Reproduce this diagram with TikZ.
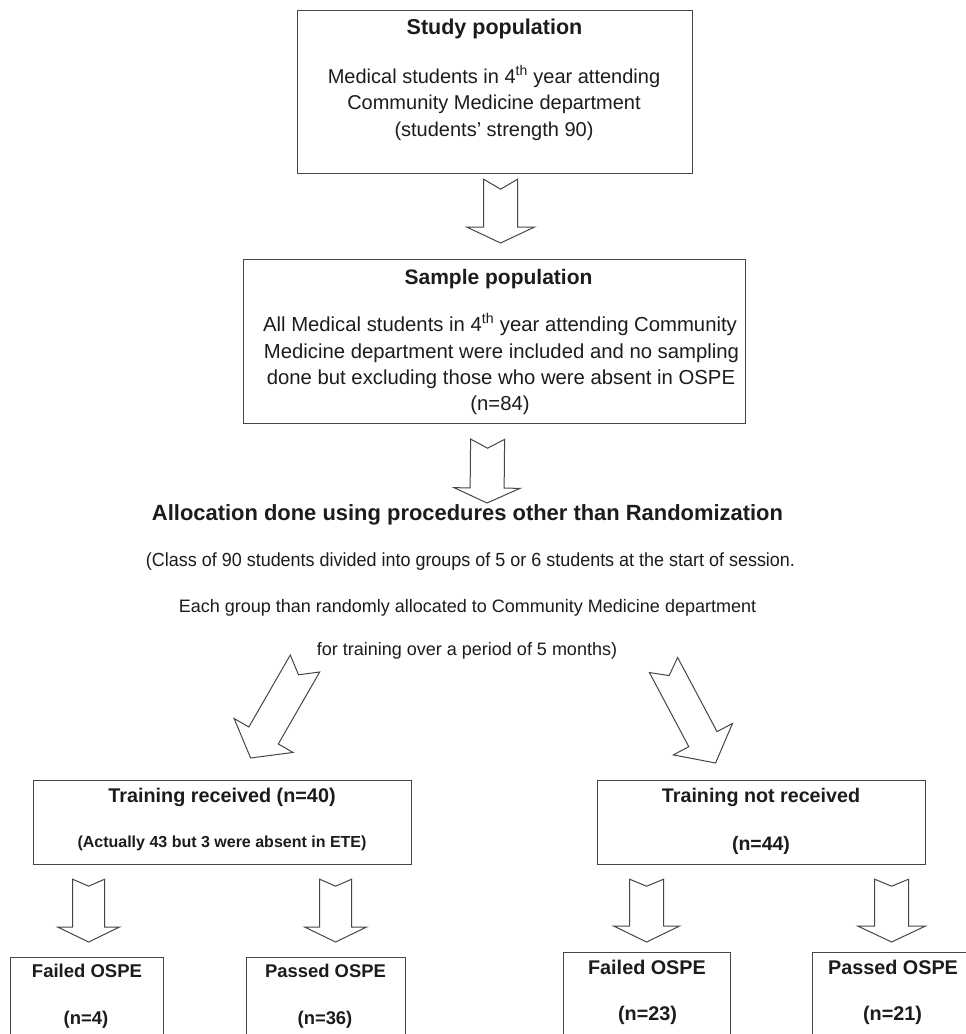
\documentclass[tikz,border=0pt]{standalone}
\usepackage{graphicx}
\usepackage{fontspec}
\setmainfont{Liberation Sans}
\usetikzlibrary{calc}
\definecolor{ink}{RGB}{28,28,28}
\definecolor{linec}{RGB}{70,70,70}
\newcommand{\fs}[1]{\fontsize{#1}{#1}\selectfont}
% #1 tail centre, #2 tip, #3 shaft half width, #4 head half width, #5 head length, #6 notch depth
\newcommand{\blockarrow}[6]{%
  \coordinate (bah) at ($(#2)!#5!(#1)$);
  \draw[blockarr] ($(#1)!#3!90:(#2)$) -- ($(#1)!#6!(#2)$) -- ($(#1)!#3!-90:(#2)$)
    -- ($(bah)!#3!-90:(#2)$) -- ($(bah)!#4!-90:(#2)$) -- (#2)
    -- ($(bah)!#4!90:(#2)$) -- ($(bah)!#3!90:(#2)$) -- cycle;}
\begin{document}
\begin{tikzpicture}[x=1pt,y=-1pt,
  box/.style={draw=linec, line width=1.2pt, anchor=north west, inner sep=0pt},
  t/.style={inner sep=0pt, text=ink, anchor=center, text height=0.72em, text depth=0.22em},
  blockarr/.style={draw=linec, line width=1pt, fill=white, line join=miter}]
\useasboundingbox (0,0) rectangle (966,1034);
\clip (0,0) rectangle (966,1034);
\fill[white] (0,0) rectangle (966,1034);

% boxes
\node[box, minimum width=395pt, minimum height=163pt] (b1) at (297,10) {};
\node[box, minimum width=502pt, minimum height=164pt] (b2) at (243,259) {};
\node[box, minimum width=378pt, minimum height=84pt] (tr) at (33,780) {};
\node[box, minimum width=328pt, minimum height=84pt] (tn) at (597,780) {};
\node[box, minimum width=153pt, minimum height=110pt] (f1) at (10,957) {};
\node[box, minimum width=159pt, minimum height=110pt] (p1) at (246,957) {};
\node[box, minimum width=167pt, minimum height=115pt] (f2) at (563,952) {};
\node[box, minimum width=162pt, minimum height=115pt] (p2) at (812,952) {};

% box 1 text
\node[t, font=\bfseries\fs{21.5}] (t1) at (494.5,32) {Study population};
\node[t, font=\fs{20}] (t1a) at (494,81) {Medical students in 4\textsuperscript{th} year attending};
\node[t, font=\fs{20}] (t1b) at (494,107) {Community Medicine department};
\node[t, font=\fs{20}] (t1c) at (494,134) {(students’ strength 90)};

% box 2 text
\node[t, font=\bfseries\fs{21}] (t2) at (498.5,282) {Sample population};
\node[t, font=\fs{20.3}] (t2a) at (500,329) {All Medical students in 4\textsuperscript{th} year attending Community};
\node[t, font=\fs{20.3}] (t2b) at (501.5,355.5) {Medicine department were included and no sampling};
\node[t, font=\fs{20.3}] (t2c) at (501,382) {done but excluding those who were absent in OSPE};
\node[t, font=\fs{20.3}] (t2d) at (500,408) {(n=84)};

% middle text
\node[t, font=\bfseries\fs{22}] (alloc) at (467.5,518) {\resizebox{631pt}{\height}{Allocation done using procedures other than Randomization}};
\node[t, font=\fs{19}] (cls) at (470.5,564) {\resizebox{649pt}{\height}{(Class of 90 students divided into groups of 5 or 6 students at the start of session.}};
\node[t, font=\fs{18}] (each) at (467.5,610) {Each group than randomly allocated to Community Medicine department};
\node[t, font=\fs{18}] (fortr) at (467,653) {for training over a period of 5 months)};

% training boxes text
\node[t, font=\bfseries\fs{19.8}] (trt) at (222,800) {Training received (n=40)};
\node[t, font=\bfseries\fs{16}] (trs) at (222,845) {(Actually 43 but 3 were absent in ETE)};
\node[t, font=\bfseries\fs{19.7}] (tnt) at (761,800) {Training not received};
\node[t, font=\bfseries\fs{19.5}] (tns) at (761,848) {(n=44)};

% outcome boxes text
\node[t, font=\bfseries\fs{18.5}] (f1t) at (87,975) {Failed OSPE};
\node[t, font=\bfseries\fs{18.5}] (f1n) at (86,1022) {(n=4)};
\node[t, font=\bfseries\fs{18.4}] (p1t) at (325.5,975) {Passed OSPE};
\node[t, font=\bfseries\fs{18.4}] (p1n) at (325,1022) {(n=36)};
\node[t, font=\bfseries\fs{19.8}] (f2t) at (647,972) {Failed OSPE};
\node[t, font=\bfseries\fs{19.8}] (f2n) at (647.5,1018) {(n=23)};
\node[t, font=\bfseries\fs{19.8}] (p2t) at (893,972) {Passed OSPE};
\node[t, font=\bfseries\fs{19.8}] (p2n) at (892.5,1018) {(n=21)};

% arrow end points
\coordinate (a1t) at ($(b1.south)+(5.5,5)$);
\coordinate (a1h) at ($(b2.north)+(6,-16)$);
\coordinate (a2t) at ($(b2.south)+(-7,15)$);
\coordinate (a2h) at ($(alloc.center)+(19.5,-15)$);
\coordinate (a3t) at ($(fortr.center)+(-162,10.5)$);
\coordinate (a3h) at ($(tr.north)+(28,-22)$);
\coordinate (a4t) at ($(fortr.center)+(196.5,12)$);
\coordinate (a4h) at ($(tn.north)+(-46,-17)$);
\coordinate (s1t) at ($(tr.south)+(-134,14)$);
\coordinate (s1h) at ($(f1.north)+(1.5,-15)$);
\coordinate (s2t) at ($(tr.south)+(113,14)$);
\coordinate (s2h) at ($(p1.north)+(9.5,-15)$);
\coordinate (s3t) at ($(tn.south)+(-115,14)$);
\coordinate (s3h) at ($(f2.north)+(-0.5,-10)$);
\coordinate (s4t) at ($(tn.south)+(130,14)$);
\coordinate (s4h) at ($(p2.north)+(-2,-10)$);

% block arrows
\blockarrow{a1t}{a1h}{17pt}{34pt}{16pt}{10pt}
\blockarrow{a2t}{a2h}{17pt}{33pt}{15pt}{9pt}
\blockarrow{a3t}{a3h}{17pt}{34pt}{26pt}{13pt}
\blockarrow{a4t}{a4h}{16pt}{33.5pt}{27pt}{12pt}
\blockarrow{s1t}{s1h}{16pt}{31pt}{15pt}{7pt}
\blockarrow{s2t}{s2h}{16pt}{31pt}{15pt}{7pt}
\blockarrow{s3t}{s3h}{17pt}{33pt}{16pt}{7pt}
\blockarrow{s4t}{s4h}{17pt}{34pt}{16pt}{7pt}
\end{tikzpicture}
\end{document}
